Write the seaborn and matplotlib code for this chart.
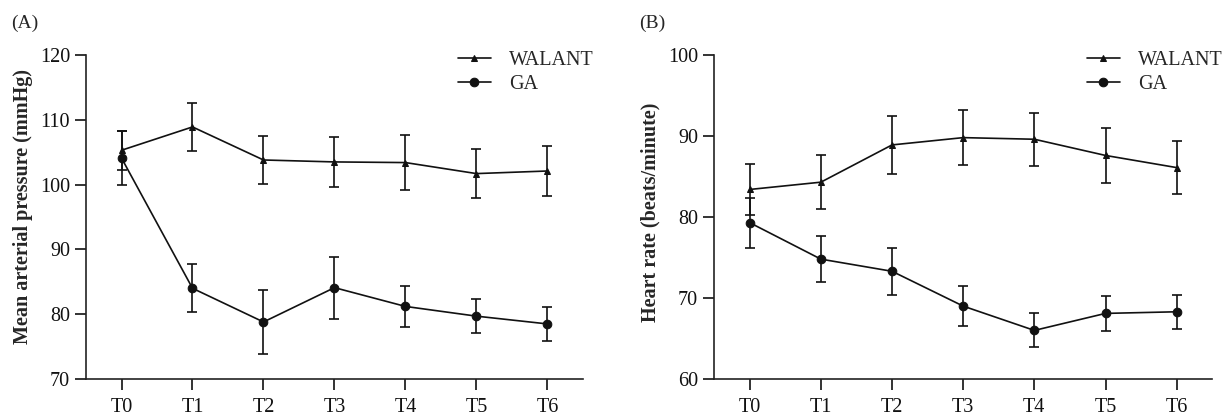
import matplotlib.pyplot as plt
import seaborn as sns
import pandas as pd

sns.set_style("ticks")
plt.rcParams["font.family"] = ["Liberation Serif", "DejaVu Serif"]
plt.rcParams["axes.linewidth"] = 1.2
plt.rcParams["xtick.major.width"] = 1.2
plt.rcParams["ytick.major.width"] = 1.2

# ---------------- data (mean ± SD) ----------------
times = ["T0", "T1", "T2", "T3", "T4", "T5", "T6"]

map_walant = [105.3, 108.9, 103.8, 103.5, 103.4, 101.7, 102.1]
map_walant_sd = [3.0, 3.7, 3.7, 3.8, 4.2, 3.8, 3.9]
map_ga = [104.1, 84.0, 78.8, 84.1, 81.2, 79.7, 78.5]
map_ga_sd = [4.1, 3.7, 5.0, 4.8, 3.1, 2.6, 2.6]

hr_walant = [83.4, 84.3, 88.9, 89.8, 89.6, 87.6, 86.1]
hr_walant_sd = [3.1, 3.3, 3.6, 3.4, 3.3, 3.4, 3.3]
hr_ga = [79.3, 74.8, 73.3, 69.0, 66.0, 68.1, 68.3]
hr_ga_sd = [3.1, 2.8, 2.9, 2.5, 2.1, 2.2, 2.1]

groups = ["WALANT", "GA"]
markers = {"WALANT": "^", "GA": "o"}
msizes = {"WALANT": 5, "GA": 6.2}


def make_df(walant, walant_sd, ga, ga_sd):
    rows = []
    for g, vals, sds in [("WALANT", walant, walant_sd), ("GA", ga, ga_sd)]:
        for i, (v, s) in enumerate(zip(vals, sds)):
            rows.append({"x": i, "time": times[i], "group": g, "mean": v, "sd": s})
    return pd.DataFrame(rows)


def draw_panel(ax, df, ylim, yticks, ylabel, label_y):
    for g in groups:
        sub = df[df["group"] == g]
        ax.errorbar(sub["x"], sub["mean"], yerr=sub["sd"], fmt="none",
                    ecolor="#111111", elinewidth=1.2, capsize=3.8, capthick=1.2, zorder=2)
        sns.lineplot(data=sub, x="x", y="mean", ax=ax, color="#111111",
                     marker=markers[g], markersize=msizes[g], markeredgecolor="#111111",
                     linewidth=1.2, label=g, zorder=3)
    ax.set_xlim(-0.5, 6.5)
    ax.set_ylim(*ylim)
    ax.set_yticks(yticks)
    ax.set_xticks(range(len(times)))
    ax.set_xticklabels(times)
    ax.set_xlabel("")
    ax.set_ylabel(ylabel, fontsize=14.5, fontweight="bold")
    ax.yaxis.set_label_coords(-0.107, label_y)
    ax.tick_params(axis="both", labelsize=14.5, length=8, direction="out", colors="#111111")
    ax.tick_params(axis="x", pad=6)
    sns.despine(ax=ax)
    for sp in ["left", "bottom"]:
        ax.spines[sp].set_color("#222222")
    ax.legend(frameon=False, fontsize=14.5, loc="upper left", bbox_to_anchor=(0.733, 1.038),
              handlelength=1.6, handletextpad=0.9, labelspacing=0.25, borderaxespad=0)


fig = plt.figure(figsize=(12.27, 4.17), dpi=100, facecolor="white")
ax1 = fig.add_axes([0.0701, 0.0911, 0.405, 0.777])
ax2 = fig.add_axes([0.582, 0.0911, 0.406, 0.777])

draw_panel(ax1, make_df(map_walant, map_walant_sd, map_ga, map_ga_sd),
           (70, 120), [70, 80, 90, 100, 110, 120], "Mean arterial pressure (mmHg)", 0.531)
draw_panel(ax2, make_df(hr_walant, hr_walant_sd, hr_ga, hr_ga_sd),
           (60, 100), [60, 70, 80, 90, 100], "Heart rate (beats/minute)", 0.515)

fig.text(0.009, 0.945, "(A)", fontsize=14, va="center", ha="left")
fig.text(0.521, 0.945, "(B)", fontsize=14, va="center", ha="left")

fig.savefig("out.png", dpi=100, facecolor="white")
